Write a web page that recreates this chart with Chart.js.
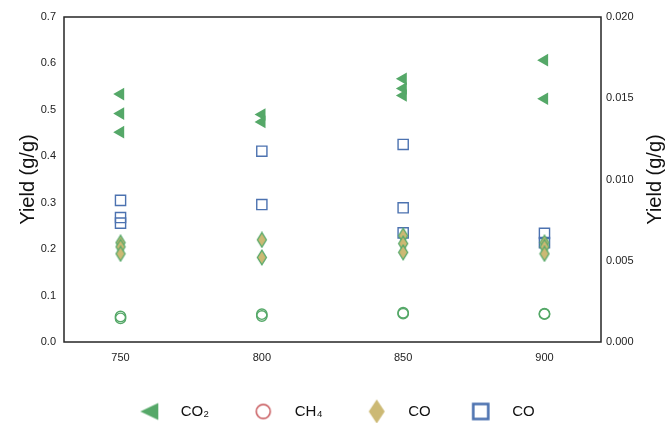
<!DOCTYPE html>
<html>
<head>
<meta charset="utf-8">
<script src="https://cdn.jsdelivr.net/npm/chart.js@4.4.0/dist/chart.umd.min.js"></script>
<style>
  html, body { margin: 0; padding: 0; background: #ffffff; }
  #wrap { width: 668px; height: 423px; }
</style>
</head>
<body>
<div id="wrap"><canvas id="c" width="668" height="423"></canvas></div>
<script>
// ---- data (all on left axis, g/g) ----
const temperatures = [750, 800, 850, 900];
const co2X = [750, 750, 750, 800, 800, 850, 850, 850, 900, 900];
const co2Y = [0.534, 0.492, 0.452, 0.490, 0.474, 0.567, 0.546, 0.531, 0.607, 0.524];
const ch4X = [750, 750, 800, 800, 850, 850, 900, 900];
const ch4Y = [0.055, 0.051, 0.060, 0.056, 0.063, 0.061, 0.061, 0.060];
const coDX = [750, 750, 750, 800, 800, 850, 850, 850, 900, 900, 900];
const coDY = [0.214, 0.205, 0.190, 0.220, 0.182, 0.229, 0.212, 0.193, 0.214, 0.205, 0.190];
const coSX = [750, 750, 750, 800, 800, 850, 850, 850, 900, 900];
const coSY = [0.305, 0.268, 0.256, 0.411, 0.296, 0.4255, 0.289, 0.235, 0.234, 0.214];
const leftTicks = [0.0, 0.1, 0.2, 0.3, 0.4, 0.5, 0.6, 0.7];
const rightTicks = [0.000, 0.005, 0.010, 0.015, 0.020];
const legendLabels = ['CO\u2082 ', 'CH\u2084 ', 'CO', 'CO'];
const axisTitle = 'Yield (g/g)';

const GREEN = '#55a868', BLUE = '#4c72b0', RED = '#c44e52', TAN = '#ccb974';
const FONT = "'Liberation Sans', Arial, sans-serif";

function pts(xs, ys) { return xs.map((x, i) => ({x: x, y: ys[i]})); }

function makeCanvas(w, h, draw) {
  const c = document.createElement('canvas');
  c.width = w; c.height = h;
  draw(c.getContext('2d'), w, h);
  return c;
}
// plot diamond (tan fill, green edge)
const diamondPlot = makeCanvas(12, 17, (ctx, w, h) => {
  ctx.beginPath();
  ctx.moveTo(w / 2, 1.2); ctx.lineTo(w - 1.5, h / 2); ctx.lineTo(w / 2, h - 1.2); ctx.lineTo(1.5, h / 2); ctx.closePath();
  ctx.fillStyle = TAN; ctx.fill();
  ctx.strokeStyle = GREEN; ctx.lineWidth = 1.3; ctx.stroke();
});
// legend markers
const legTri = makeCanvas(20, 20, (ctx, w, h) => {
  ctx.beginPath(); ctx.moveTo(1, h / 2); ctx.lineTo(19, 1.5); ctx.lineTo(19, 18.5); ctx.closePath();
  ctx.fillStyle = GREEN; ctx.fill();
});
const legCirc = makeCanvas(18, 18, (ctx) => {
  ctx.beginPath(); ctx.arc(9, 9, 7, 0, Math.PI * 2);
  ctx.strokeStyle = RED; ctx.lineWidth = 1.4; ctx.stroke();
});
const legDia = makeCanvas(18, 26, (ctx, w, h) => {
  ctx.beginPath(); ctx.moveTo(w / 2, 1); ctx.lineTo(w - 1, h / 2); ctx.lineTo(w / 2, h - 1); ctx.lineTo(1, h / 2); ctx.closePath();
  ctx.fillStyle = TAN; ctx.fill();
});
const legSq = makeCanvas(20, 20, (ctx) => {
  ctx.strokeStyle = BLUE; ctx.lineWidth = 2.6; ctx.strokeRect(2.5, 2.5, 15, 15);
});
const legendMarkers = [legTri, legCirc, legDia, legSq];

const boxPlugin = {
  id: 'box',
  afterDatasetsDraw(chart) {
    const a = chart.chartArea, ctx = chart.ctx;
    ctx.save();
    ctx.strokeStyle = '#262626'; ctx.lineWidth = 1.5;
    ctx.strokeRect(a.left, a.top, a.right - a.left, a.bottom - a.top);
    // right-hand axis title, reading bottom-to-top like the left one
    ctx.fillStyle = '#111';
    ctx.font = '20px ' + FONT;
    ctx.textAlign = 'center'; ctx.textBaseline = 'middle';
    ctx.translate(655, (a.top + a.bottom) / 2);
    ctx.rotate(-Math.PI / 2);
    ctx.fillText(axisTitle, 0, 0);
    ctx.restore();
  }
};

new Chart(document.getElementById('c'), {
  type: 'scatter',
  data: {
    datasets: [
      { label: legendLabels[0], data: pts(co2X, co2Y), pointStyle: 'triangle', rotation: -90,
        pointRadius: 7.3, pointHoverRadius: 7.3, backgroundColor: GREEN, borderColor: GREEN, borderWidth: 0, yAxisID: 'y', order: 1 },
      { label: legendLabels[1], data: pts(ch4X, ch4Y), pointStyle: 'circle',
        pointRadius: 5.2, pointHoverRadius: 5.2, backgroundColor: 'rgba(0,0,0,0)', borderColor: GREEN, borderWidth: 1.4, yAxisID: 'y', order: 2 },
      { label: legendLabels[2], data: pts(coDX, coDY), pointStyle: diamondPlot,
        pointRadius: 7, backgroundColor: TAN, borderColor: GREEN, yAxisID: 'y', order: 3 },
      { label: legendLabels[3], data: pts(coSX, coSY), pointStyle: 'rect',
        pointRadius: 7.2, pointHoverRadius: 7.2, backgroundColor: 'rgba(0,0,0,0)', borderColor: BLUE, borderWidth: 1.4, yAxisID: 'y', order: 4 }
    ]
  },
  options: {
    responsive: false,
    animation: false,
    events: [],
    layout: { padding: { top: 17, left: 0, right: 8, bottom: -6 } },
    scales: {
      x: {
        type: 'linear', min: 730, max: 920,
        afterBuildTicks(s) { s.ticks = temperatures.map(v => ({value: v})); },
        afterFit(s) { s.height = 36; },
        grid: { display: false, drawTicks: false },
        border: { display: false },
        ticks: { padding: 9, color: '#222', font: { family: FONT, size: 11 }, callback: v => String(v) }
      },
      y: {
        position: 'left', min: 0, max: 0.7,
        afterBuildTicks(s) { s.ticks = leftTicks.map(v => ({value: v})); },
        afterFit(s) { s.width = 64; },
        grid: { display: false, drawTicks: false },
        border: { display: false },
        ticks: { padding: 8, color: '#222', font: { family: FONT, size: 11 }, callback: v => Number(v).toFixed(1) },
        title: { display: true, text: axisTitle, color: '#111', font: { family: FONT, size: 20 }, padding: { top: 16, bottom: 0 } }
      },
      y2: {
        position: 'right', min: 0, max: 0.02,
        afterBuildTicks(s) { s.ticks = rightTicks.map(v => ({value: v})); },
        afterFit(s) { s.width = 59; },
        grid: { display: false, drawTicks: false },
        border: { display: false },
        ticks: { padding: 5, color: '#222', font: { family: FONT, size: 11 }, callback: v => Number(v).toFixed(3) },
        title: { display: false }
      }
    },
    plugins: {
      tooltip: { enabled: false },
      legend: {
        position: 'bottom',
        labels: {
          usePointStyle: true,
          pointStyleWidth: 48,
          boxHeight: 15,
          padding: 26,
          color: '#111',
          font: { family: FONT, size: 15 },
          generateLabels(chart) {
            return legendLabels.map((t, i) => ({
              text: t, pointStyle: legendMarkers[i], datasetIndex: i, hidden: false,
              fillStyle: 'rgba(0,0,0,0)', strokeStyle: 'rgba(0,0,0,0)', lineWidth: 0, fontColor: '#111'
            }));
          }
        }
      }
    }
  },
  plugins: [boxPlugin]
});
</script>
</body>
</html>
